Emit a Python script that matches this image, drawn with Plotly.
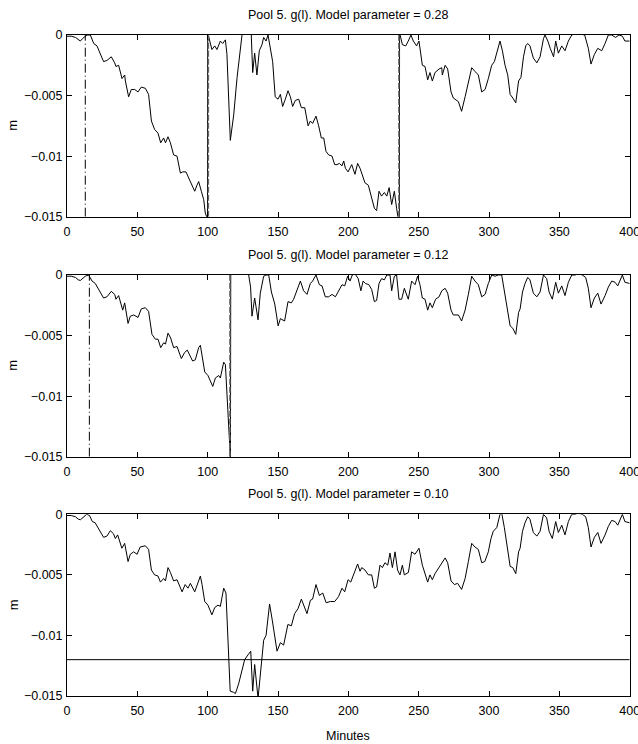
import plotly.graph_objects as go

# ---------------- data ----------------
titles = ["Pool 5. g(l). Model parameter = 0.28",
          "Pool 5. g(l). Model parameter = 0.12",
          "Pool 5. g(l). Model parameter = 0.10"]
x_ticks = [0, 50, 100, 150, 200, 250, 300, 350, 400]
y_ticks = [-0.015, -0.01, -0.005, 0]
y_ticktext = ["\u22120.015", "\u22120.01", "\u22120.005", "0"]

t1 = [0, 3, 6, 8, 9.5, 11, 13, 14.2, 16.6, 19, 21.3, 23, 26, 28.4, 31.5, 33.9, 34.8, 36.7, 39.1, 41, 41.5, 43.8,
      45.7, 48.1, 50.5, 52.8, 55.7, 58, 60, 62.3, 64.7, 66.6, 68.7, 70, 71.8, 73.5, 75.8, 78.2, 80.6, 82.2, 84.6,
      86.5, 88.9, 90.8, 92.4, 93.6, 95.5, 97.2, 98.3, 99.5, 99.9, 100.0, 101.9, 103, 105, 106.6, 109, 110.7, 112.6,
      113.7, 116.1, 118.5, 120.9, 123.2, 124.4, 126, 129, 131, 132, 133.4, 135, 136.7, 138.6, 139.8, 141.5, 142.9,
      144.5, 146.2, 148, 150, 151.7, 153.3, 155.2, 157.1, 158.8, 160.4, 162.3, 164.7, 166.6, 169, 171.4, 173, 174.6,
      177, 178.9, 180.8, 182.5, 184.1, 186, 188.4, 190.3, 191.9, 193.6, 195.5, 196.7, 197.9, 199.8, 202.4, 204.7,
      206.6, 208.3, 209.9, 211.8, 214.2, 216.1, 218.5, 220.1, 221.8, 223.6, 225.6, 227.3, 229, 230.8, 232.7, 234.3,
      235.5, 236.3, 236.4, 238.4, 240.8, 242.6, 244.5, 246.2, 248.5, 250.2, 252.6, 254.5, 256.4, 258, 259.7, 261.6,
      264.5, 266.4, 266.8, 268.8, 270.6, 273, 274.6, 278.2, 280.5, 283, 285.3, 287.7, 290, 292.4, 294.8, 297.2,
      299.5, 301.9, 303.8, 305.5, 307.8, 309.5, 311.4, 313.3, 315, 316.9, 319, 321, 322.7, 324.5, 326.1, 327.5,
      329.1, 331.5, 334, 336.3, 338.7, 339.8, 341.8, 343.5, 345.9, 347.4, 349.3, 351.7, 354, 356.4, 358.8, 361,
      364, 368, 370.6, 372.5, 374.9, 377.3, 380.1, 382.5, 384.8, 387.2, 390, 392.4, 394.8, 396.6, 399, 400]
v1 = [-0.0001, -0.0001, -0.0002, -0.0004, -0.0005, -0.0003, -0.0001, 0.0, 0.0, -0.0007, -0.0009, -0.0014, -0.0022,
      -0.0021, -0.0018, -0.0023, -0.0026, -0.0025, -0.0036, -0.0033, -0.0038, -0.0051, -0.0045, -0.0045, -0.0047,
      -0.0043, -0.0044, -0.0049, -0.0071, -0.0078, -0.0081, -0.0089, -0.0085, -0.0089, -0.0084, -0.0089, -0.0099,
      -0.0100, -0.0114, -0.0113, -0.0113, -0.0118, -0.0125, -0.0129, -0.0124, -0.0121, -0.0129, -0.0136, -0.0147,
      -0.0152, -0.0152, 0.0002, -0.0008, -0.0012, -0.0009, -0.0012, -0.0005, -0.0007, -0.0004, -0.0016, -0.0087,
      -0.0066, -0.0035, -0.0008, 0.0, 0.0002, 0.0002, 0.0, -0.0031, -0.0015, -0.0033, -0.0013, -0.0008, -0.0002,
      -0.0005, 0.0, -0.0011, -0.0022, -0.0051, -0.0053, -0.0049, -0.0059, -0.0053, -0.0046, -0.0051, -0.0059,
      -0.0054, -0.0053, -0.0060, -0.0060, -0.0075, -0.0071, -0.0073, -0.0067, -0.0075, -0.0085, -0.0085, -0.0096,
      -0.0099, -0.0100, -0.0107, -0.0107, -0.0106, -0.0108, -0.0104, -0.0110, -0.0113, -0.0107, -0.0115, -0.0106,
      -0.0110, -0.0115, -0.0122, -0.0124, -0.0132, -0.0143, -0.0145, -0.0129, -0.0133, -0.0130, -0.0133, -0.0126,
      -0.0140, -0.0129, -0.0143, -0.0152, -0.0152, 0.0002, -0.0008, -0.0009, -0.0005, 0.0, -0.0005, -0.0009,
      -0.0005, -0.0025, -0.0026, -0.0037, -0.0031, -0.0038, -0.0031, -0.0028, -0.0027, -0.0033, -0.0025, -0.0028,
      -0.0047, -0.0052, -0.0055, -0.0063, -0.0051, -0.0038, -0.0027, -0.0030, -0.0033, -0.0047, -0.0045, -0.0036,
      -0.0025, -0.0022, -0.0015, -0.0005, -0.0013, -0.0025, -0.0033, -0.0049, -0.0052, -0.0056, -0.0038, -0.0035,
      -0.0018, -0.0009, -0.0007, -0.0009, -0.0019, -0.0023, -0.0018, -0.0003, 0.0, -0.0005, -0.0011, -0.0018,
      -0.0005, -0.0015, -0.0009, -0.0013, -0.0005, 0.0, 0.0001, 0.0001, 0.0, -0.0011, -0.0024, -0.0016, -0.0011,
      -0.0013, -0.0007, 0.0, 0.0, -0.0002, 0.0, -0.0001, -0.0005, -0.0005, -0.0005]

t2 = [0, 3, 6, 8, 9.5, 11, 13, 15.4, 17.8, 20.1, 22, 24, 26, 28.4, 31.5, 33.9, 34.8, 36.7, 38, 39.6, 41, 43.4, 45,
      47.4, 50.5, 52.8, 55.7, 58, 60.4, 62.8, 64.7, 66.6, 68.7, 70, 71.8, 73.7, 75.8, 78.2, 81.3, 83.6, 85.5, 87.4,
      89.3, 91.2, 93.6, 94.8, 96, 97.9, 100.2, 103.6, 105.5, 107.8, 109, 111.4, 112.6, 114.2, 116.2, 116.4, 118,
      122, 126, 129, 130.5, 131.5, 133.4, 135.8, 137.4, 139.8, 141.5, 143.4, 145.3, 147.7, 150.1, 151.7, 153.3,
      154.7, 157.1, 159.5, 161.1, 163.5, 165.9, 168.2, 170.6, 173, 174.6, 177, 179.4, 181.3, 183.6, 186, 188.4,
      190.8, 193.1, 195.5, 197.4, 199.5, 201.2, 202.8, 204.7, 207, 208.9, 210.5, 212.2, 214.6, 216.6, 218.5, 220.1,
      221.8, 223.6, 225.6, 227.3, 229.6, 230.8, 232.7, 234.3, 236, 237.9, 239.8, 242.6, 245, 247.4, 249.2, 250.9,
      252.6, 254.5, 256.4, 258, 259.7, 262, 264.5, 266.4, 268.8, 270.6, 273, 274.6, 278.2, 280.5, 283, 285.3,
      287.7, 290, 292.4, 294.8, 297.2, 299.5, 301.9, 304.3, 306.6, 309, 310.9, 312.6, 315, 316.9, 319, 321, 322.1,
      323.8, 325.6, 327.5, 329.1, 331.5, 334, 336.3, 338.7, 341, 342.7, 345, 347.4, 349.3, 351.7, 354, 356.4,
      358.8, 361.1, 363.5, 366.3, 368.7, 370.6, 372.5, 374.9, 377.3, 379.6, 382.5, 384.8, 387.2, 389.6, 391.5,
      393.1, 394.8, 396.6, 399, 400]
v2 = [-0.0001, -0.0001, -0.0002, -0.0004, -0.00045, -0.0003, -0.0001, 0.0, -0.0005, -0.0007, -0.0011, -0.0016,
      -0.0019, -0.0018, -0.00135, -0.0016, -0.0020, -0.0017, -0.0022, -0.0029, -0.0023, -0.0040, -0.0034, -0.0033,
      -0.0035, -0.0028, -0.0027, -0.0030, -0.0049, -0.0053, -0.0053, -0.0060, -0.0056, -0.0057, -0.0048, -0.0052,
      -0.0060, -0.0059, -0.0069, -0.0064, -0.0062, -0.0066, -0.0071, -0.0070, -0.0060, -0.0058, -0.0066, -0.0080,
      -0.0083, -0.0092, -0.0085, -0.0083, -0.0085, -0.0072, -0.0074, -0.0110, -0.0152, 0.0002, 0.0002, 0.0002,
      0.0002, 0.0001, -0.0010, -0.0034, -0.0019, -0.0037, -0.0015, -0.0001, 0.0, 0.0, -0.0014, -0.0024, -0.0042,
      -0.0036, -0.0037, -0.0038, -0.0022, -0.0023, -0.0020, -0.0012, -0.0005, -0.0013, -0.0016, -0.0007, -0.0005,
      0.0, -0.0008, -0.0009, -0.0018, -0.0018, -0.0016, -0.0018, -0.0013, -0.0008, -0.0009, -0.0001, -0.0005, 0.0,
      0.0001, -0.0003, -0.0013, -0.0005, -0.0007, -0.0008, -0.0012, -0.0022, -0.0021, -0.0007, -0.0003, -0.0004,
      0.0, 0.0, -0.0013, -0.0001, 0.0, -0.0020, -0.0020, -0.0011, -0.0020, -0.0005, -0.0008, -0.0001, -0.0008,
      -0.0019, -0.0020, -0.0029, -0.0023, -0.0027, -0.0020, -0.0018, -0.0013, -0.0011, -0.0015, -0.0029, -0.0033,
      -0.0033, -0.0038, -0.0029, -0.0016, -0.0001, -0.0005, -0.0008, -0.0018, -0.0016, -0.0007, 0.0, -0.0001, 0.0,
      0.0, -0.0013, -0.0026, -0.0042, -0.0044, -0.0049, -0.0031, -0.0028, -0.0014, -0.0007, -0.0002, -0.0004,
      -0.0015, -0.0018, -0.0014, 0.0, -0.0003, -0.0014, -0.0020, -0.0006, -0.0015, -0.0009, -0.0017, -0.0006, 0.0,
      0.0, 0.0001, 0.0, -0.0002, -0.0011, -0.0027, -0.0019, -0.0015, -0.0024, -0.0017, -0.0010, -0.0005, -0.0006,
      -0.0009, -0.0004, 0.0, -0.0006, -0.0007, -0.0007]

t3 = [0, 3, 6, 8, 9.5, 11, 13, 14, 16, 18, 20, 22, 24, 26, 28.4, 30.8, 33, 34.4, 36, 37.5, 39, 41, 43.4, 45, 47.4,
      49.8, 52, 55.7, 58, 60, 62.3, 64.7, 66.4, 68.7, 70, 71.8, 73.5, 75.8, 78.2, 81.8, 84, 86, 87.7, 90.8, 93.6,
      94.8, 96, 97.9, 100.2, 103, 105, 107.3, 109, 111.4, 113, 115, 116, 118.5, 119.7, 122, 124, 126.3, 128.7,
      130.6, 132, 133.4, 135.8, 137.4, 139.8, 141.5, 144, 146, 149.3, 151.7, 154, 157, 159.5, 161.8, 164.2, 166.6,
      169, 170.6, 173, 174.6, 177, 179.4, 181.8, 184.2, 187.2, 190.3, 193, 195.5, 197.4, 199.8, 201.7, 204.7,
      206.6, 208.3, 209.5, 211.8, 214.2, 216.6, 218.5, 220.1, 222.5, 224.2, 226, 228, 229.6, 231.3, 233.2, 235,
      236.7, 238.4, 239.8, 242.7, 245, 247.4, 250.2, 252.6, 254.5, 256.4, 258, 259.7, 261.6, 264.5, 266.4, 268.8,
      270.6, 273, 275.4, 277.7, 280.5, 283, 285.3, 287.7, 290, 292.4, 294.8, 297, 299.5, 301.4, 303, 305.5, 307.8,
      309, 310.9, 312.6, 315, 316.9, 319, 321, 322.1, 323.8, 325.6, 327.5, 329.1, 331.5, 334, 336.3, 338.7, 341,
      342.7, 345, 347.4, 349.3, 351.7, 354, 356.4, 358.8, 361.1, 363.5, 366.3, 368.7, 370.6, 372.5, 374.9, 377.3,
      379.6, 382.5, 384.8, 387.2, 389.6, 391.5, 393.1, 394.8, 396.6, 399, 400]
v3 = [-0.0001, -0.0001, -0.0002, -0.0004, -0.00045, -0.0003, -0.0001, 0.0, -0.0001, -0.0006, -0.0007, -0.0011,
      -0.0016, -0.0019, -0.0018, -0.00135, -0.0016, -0.0020, -0.0017, -0.0022, -0.0028, -0.0024, -0.0039, -0.0033,
      -0.0031, -0.0033, -0.0027, -0.0026, -0.0029, -0.0046, -0.0050, -0.0051, -0.0056, -0.0053, -0.0055, -0.0044,
      -0.0048, -0.0055, -0.0054, -0.0064, -0.0058, -0.0061, -0.0057, -0.0064, -0.0054, -0.0051, -0.0058, -0.0072,
      -0.0075, -0.0083, -0.0077, -0.0075, -0.0076, -0.0061, -0.0065, -0.0119, -0.0146, -0.0147, -0.0148, -0.0140,
      -0.0130, -0.0120, -0.0116, -0.0113, -0.0146, -0.0124, -0.0152, -0.0130, -0.0104, -0.0100, -0.0074, -0.0088,
      -0.0113, -0.0106, -0.0108, -0.0091, -0.0092, -0.0082, -0.0078, -0.0070, -0.0078, -0.0082, -0.0071, -0.0070,
      -0.0058, -0.0067, -0.0065, -0.0073, -0.0072, -0.0072, -0.0068, -0.0061, -0.0064, -0.0054, -0.0056, -0.0046,
      -0.0041, -0.0047, -0.0044, -0.0046, -0.0050, -0.0050, -0.0061, -0.0060, -0.0042, -0.0044, -0.0040, -0.0042,
      -0.0032, -0.0044, -0.0031, -0.0046, -0.0050, -0.0042, -0.0050, -0.0048, -0.0031, -0.0033, -0.0028, -0.0042,
      -0.0049, -0.0056, -0.0050, -0.0054, -0.0049, -0.0044, -0.0040, -0.0036, -0.0040, -0.0055, -0.0058, -0.0057,
      -0.0062, -0.0053, -0.0039, -0.0024, -0.0027, -0.0029, -0.0040, -0.0039, -0.0031, -0.0020, -0.0014, -0.0011,
      0.0, 0.0001, -0.0011, -0.0026, -0.0043, -0.0044, -0.0049, -0.0031, -0.0028, -0.0014, -0.0007, -0.0002,
      -0.0004, -0.0015, -0.0018, -0.0014, 0.0, -0.0003, -0.0014, -0.0020, -0.0006, -0.0015, -0.0009, -0.0017,
      -0.0006, 0.0, 0.0, 0.0001, 0.0, -0.0002, -0.0011, -0.0027, -0.0019, -0.0015, -0.0024, -0.0017, -0.0010,
      -0.0005, -0.0006, -0.0009, -0.0004, 0.0, -0.0006, -0.0007, -0.0007]

# event markers per panel
detect_times = [13.0, 15.9, None]          # dash-dot vertical lines
reset_times = [[100.5, 235.9], [115.8], []]  # dashed vertical lines
threshold = [None, None, -0.012]            # horizontal level line
y_range = [-0.015, 0]

series_t = [t1, t2, t3]
series_v = [v1, v2, v3]

# ---------------- figure ----------------
W, H = 638, 744
FONT = "Liberation Sans, Arial, sans-serif"
x_dom = [67 / W, 629.7 / W]
panel_px = [(35, 216.7), (275, 456.7), (514.3, 696)]

fig = go.Figure()
for i in range(3):
    xa = "x" if i == 0 else f"x{i+1}"
    ya = "y" if i == 0 else f"y{i+1}"
    fig.add_trace(go.Scatter(x=series_t[i], y=series_v[i], mode="lines",
                             line=dict(color="black", width=1), xaxis=xa, yaxis=ya,
                             showlegend=False, hoverinfo="skip"))
    if detect_times[i] is not None:
        fig.add_trace(go.Scatter(x=[detect_times[i], detect_times[i]], y=y_range, mode="lines",
                                 line=dict(color="black", width=1, dash="9px,3px,1px,3px"),
                                 xaxis=xa, yaxis=ya, showlegend=False, hoverinfo="skip"))
    for rt in reset_times[i]:
        fig.add_trace(go.Scatter(x=[rt, rt], y=y_range, mode="lines",
                                 line=dict(color="#666666", width=1.5, dash="6px,2px"),
                                 xaxis=xa, yaxis=ya, showlegend=False, hoverinfo="skip"))
    if threshold[i] is not None:
        fig.add_trace(go.Scatter(x=[x_ticks[0], x_ticks[-1]], y=[threshold[i], threshold[i]], mode="lines",
                                 line=dict(color="black", width=1), xaxis=xa, yaxis=ya,
                                 showlegend=False, hoverinfo="skip"))

layout = dict(width=W, height=H, margin=dict(l=0, r=0, t=0, b=0, autoexpand=False),
              paper_bgcolor="white", plot_bgcolor="white",
              font=dict(family=FONT, size=12, color="black"))
axis_common = dict(showgrid=False, zeroline=False, showline=True, linecolor="black", linewidth=1,
                   mirror="allticks", ticks="inside", ticklen=5, tickcolor="black", tickwidth=1,
                   ticklabeloverflow="allow", automargin=False,
                   tickfont=dict(family=FONT, size=12.5, color="black"))
annotations = []
for i in range(3):
    top, bot = panel_px[i]
    y_dom = [1 - bot / H, 1 - top / H]
    xk = "xaxis" if i == 0 else f"xaxis{i+1}"
    yk = "yaxis" if i == 0 else f"yaxis{i+1}"
    layout[xk] = dict(axis_common, domain=x_dom, range=[x_ticks[0], x_ticks[-1]], tickvals=x_ticks,
                      ticktext=[str(v) for v in x_ticks], ticklabelstandoff=3,
                      anchor="y" if i == 0 else f"y{i+1}")
    layout[yk] = dict(axis_common, domain=y_dom, range=y_range, tickvals=y_ticks, ticktext=y_ticktext,
                      ticklabelstandoff=1, anchor="x" if i == 0 else f"x{i+1}")
    annotations.append(dict(text=titles[i], xref="paper", yref="paper", x=(x_dom[0] + x_dom[1]) / 2,
                            y=1 - (top - 20) / H, xanchor="center", yanchor="middle", showarrow=False,
                            font=dict(family=FONT, size=12.5, color="black")))
    annotations.append(dict(text="m", xref="paper", yref="paper", x=13 / W, y=1 - ((top + bot) / 2) / H,
                            xanchor="center", yanchor="middle", textangle=-90, showarrow=False,
                            font=dict(family=FONT, size=13, color="black")))
annotations.append(dict(text="Minutes", xref="paper", yref="paper", x=(x_dom[0] + x_dom[1]) / 2,
                        y=1 - 736 / H, xanchor="center", yanchor="middle", showarrow=False,
                        font=dict(family=FONT, size=12.5, color="black")))
layout["annotations"] = annotations
fig.update_layout(**layout)
fig.write_html("out.html")
